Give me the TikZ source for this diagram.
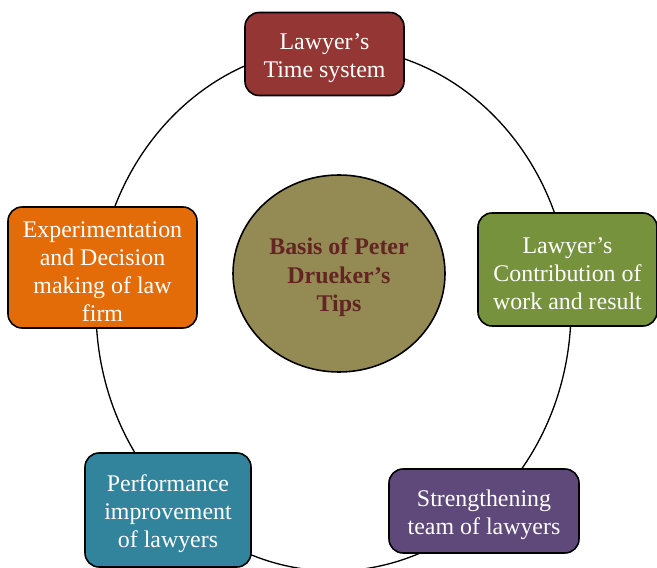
\documentclass[tikz,border=0pt]{standalone}
\usepackage{fontspec}
\setmainfont{Liberation Serif}
\usetikzlibrary{shapes.geometric}
\definecolor{tipred}{HTML}{943634}
\definecolor{tiporange}{HTML}{E36C09}
\definecolor{tipgreen}{HTML}{76923C}
\definecolor{tippurple}{HTML}{5F497A}
\definecolor{tipteal}{HTML}{31849B}
\definecolor{tipolive}{HTML}{948A54}
\definecolor{tipdark}{HTML}{632423}
% taller first line, so the text sits a little lower in its box
\newcommand\tipstrut{\rule{0pt}{13.8pt}}
\tikzset{
  tip/.style={rectangle, rounded corners=8pt, draw=black, line width=0.9pt, align=center,
    text=white, font=\fontsize{13.6}{16}\selectfont, inner sep=0pt},
  hub/.style={ellipse, draw=black, line width=0.9pt, fill=tipolive, align=center,
    text=tipdark, font=\fontsize{13.6}{16}\selectfont\bfseries,
    minimum width=4.24cm, minimum height=3.94cm, inner sep=0pt},
  ring/.style={draw=black, line width=0.75pt},
}

\begin{document}
\begin{tikzpicture}
    \useasboundingbox (0,0) rectangle (13.14,11.34);
    % cycle behind the boxes
    \node[ellipse, ring, minimum width=9.5cm, minimum height=10.48cm, inner sep=0pt] (cycle) at (6.67,5.16) {};

    \node[hub] (basis) at (6.78,5.87) {\tipstrut Basis of Peter\\Drueker’s\\Tips};

    \node[tip, fill=tipred, minimum width=3.18cm, minimum height=1.66cm] (time) at (6.49,10.26) {\tipstrut Lawyer’s\\Time system};
    \node[tip, fill=tipgreen, minimum width=3.58cm, minimum height=2.26cm] (contrib) at (11.35,5.95) {\tipstrut Lawyer’s\\Contribution of\\work and result};
    \node[tip, fill=tippurple, minimum width=3.80cm, minimum height=1.68cm] (team) at (9.68,1.12) {\tipstrut Strengthening\\team of lawyers};
    \node[tip, fill=tipteal, minimum width=3.32cm, minimum height=2.28cm] (perf) at (3.36,1.14) {\tipstrut Performance\\improvement\\of lawyers};
    \node[tip, fill=tiporange, minimum width=3.78cm, minimum height=2.42cm] (exper) at (2.05,5.99) {\tipstrut Experimentation\\and Decision\\making of law\\firm};
\end{tikzpicture}
\end{document}
